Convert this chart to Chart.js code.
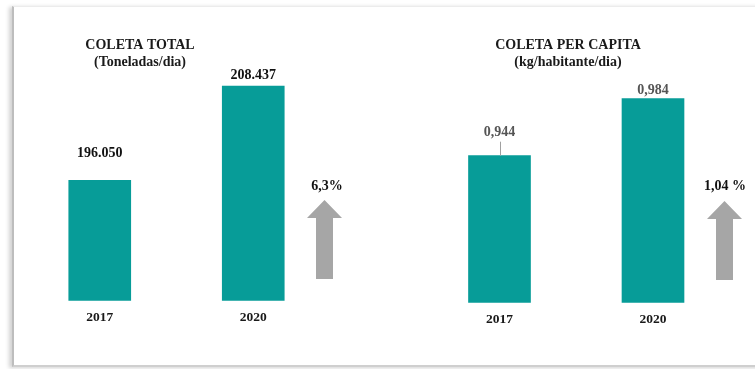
<!DOCTYPE html>
<html lang="pt-BR">
<head>
<meta charset="UTF-8">
<title>Coleta de resíduos</title>
<style>
  html, body { margin: 0; padding: 0; background: #fff; }
  #quadro {
    position: absolute; left: 0; top: 0; width: 755px; height: 369px; overflow: hidden;
  }
  #moldura {
    position: absolute; left: 12px; top: 6px; width: 760px; height: 358px;
    border-left: 2px solid #bdbdbd; border-top: 1px solid #ececec; border-bottom: 2px solid #cfcfcf;
    box-shadow: -3px 1px 4px rgba(0,0,0,0.18);
    background: #fff;
  }
  canvas { position: absolute; top: 0; }
  #total { left: 0; }
  #capita { left: 378px; }
</style>
</head>
<body>
<div id="quadro">
  <div id="moldura"></div>
  <canvas id="total" width="378" height="369"></canvas>
  <canvas id="capita" width="377" height="369"></canvas>
</div>
<script src="https://cdn.jsdelivr.net/npm/chart.js@4/dist/chart.umd.min.js"></script>
<script>
  const anos = ['2017', '2020'];
  const coletaTotal = [196050, 208437];
  const coletaTotalTxt = ['196.050', '208.437'];
  const coletaPerCapita = [0.944, 0.984];
  const coletaPerCapitaTxt = ['0,944', '0,984'];
  const variacaoTotal = '6,3%';
  const variacaoPerCapita = '1,04 %';

  const TEAL = '#079c98';
  const SERIF = '"Liberation Serif", "DejaVu Serif", serif';

  // textos, rótulos de valor e seta de variação desenhados sobre o gráfico
  const anotacoes = {
    id: 'anotacoes',
    afterDatasetsDraw(chart, args, opts) {
      const ctx = chart.ctx;
      ctx.save();
      ctx.textAlign = 'center';
      ctx.textBaseline = 'middle';
      // título
      ctx.fillStyle = '#1a1a1a';
      ctx.font = 'bold 14px ' + SERIF;
      ctx.fillText(opts.titulo, opts.tituloX, 45);
      ctx.font = 'bold 14px ' + SERIF;
      ctx.fillText(opts.subtitulo, opts.tituloX, 62);

      // rótulos de valor
      const meta = chart.getDatasetMeta(0);
      meta.data.forEach((bar, i) => {
        const y = bar.y - opts.distRotulo[i];
        ctx.fillStyle = opts.corRotulo;
        ctx.font = 'bold 14px ' + SERIF;
        ctx.fillText(opts.rotulos[i], bar.x, y);
        if (opts.linhaGuia[i]) {
          ctx.strokeStyle = '#a0a0a0';
          ctx.lineWidth = 1;
          ctx.beginPath();
          ctx.moveTo(Math.round(bar.x) + 0.5, y + 9);
          ctx.lineTo(Math.round(bar.x) + 0.5, bar.y);
          ctx.stroke();
        }
      });

      // seta de crescimento
      const a = opts.seta;
      ctx.fillStyle = '#a6a6a6';
      ctx.beginPath();
      ctx.moveTo(a.x, a.topo);
      ctx.lineTo(a.x + 17.5, a.topo + 18);
      ctx.lineTo(a.x + 8.5, a.topo + 18);
      ctx.lineTo(a.x + 8.5, a.base);
      ctx.lineTo(a.x - 8.5, a.base);
      ctx.lineTo(a.x - 8.5, a.topo + 18);
      ctx.lineTo(a.x - 17.5, a.topo + 18);
      ctx.closePath();
      ctx.fill();
      ctx.fillStyle = '#111';
      ctx.font = 'bold 14px ' + SERIF;
      ctx.fillText(opts.variacao, opts.variacaoX, 186);
      ctx.restore();
    }
  };

  function criarGrafico(el, valores, min, max, padding, extras) {
    return new Chart(document.getElementById(el), {
      type: 'bar',
      data: {
        labels: anos,
        datasets: [{
          data: valores,
          backgroundColor: TEAL,
          borderWidth: 0,
          barThickness: 62
        }]
      },
      options: {
        responsive: false,
        animation: false,
        devicePixelRatio: 1,
        layout: { padding: padding },
        plugins: {
          legend: { display: false },
          tooltip: { enabled: false },
          anotacoes: extras
        },
        scales: {
          y: { display: false, min: min, max: max },
          x: {
            grid: { display: false, drawTicks: false },
            border: { display: false },
            ticks: {
              color: '#1a1a1a',
              padding: 9,
              font: { family: SERIF, size: 13.5, weight: 'bold' }
            }
          }
        }
      },
      plugins: [anotacoes]
    });
  }

  criarGrafico('total', coletaTotal, 180200, 214500,
    { left: 23, right: 48, top: 40, bottom: 34 },
    {
      titulo: 'COLETA TOTAL', subtitulo: '(Toneladas/dia)', tituloX: 140,
      rotulos: coletaTotalTxt, corRotulo: '#111', distRotulo: [27, 11], linhaGuia: [false, false],
      seta: { x: 324.5, topo: 200, base: 279 },
      variacao: variacaoTotal, variacaoX: 327
    });

  criarGrafico('capita', coletaPerCapita, 0.841, 1.0236,
    { left: 44.75, right: 25.25, top: 42, bottom: 32 },
    {
      titulo: 'COLETA PER CAPITA', subtitulo: '(kg/habitante/dia)', tituloX: 190,
      rotulos: coletaPerCapitaTxt, corRotulo: '#555', distRotulo: [23, 8], linhaGuia: [true, false],
      seta: { x: 346.5, topo: 201, base: 280 },
      variacao: variacaoPerCapita, variacaoX: 347
    });
</script>
</body>
</html>
